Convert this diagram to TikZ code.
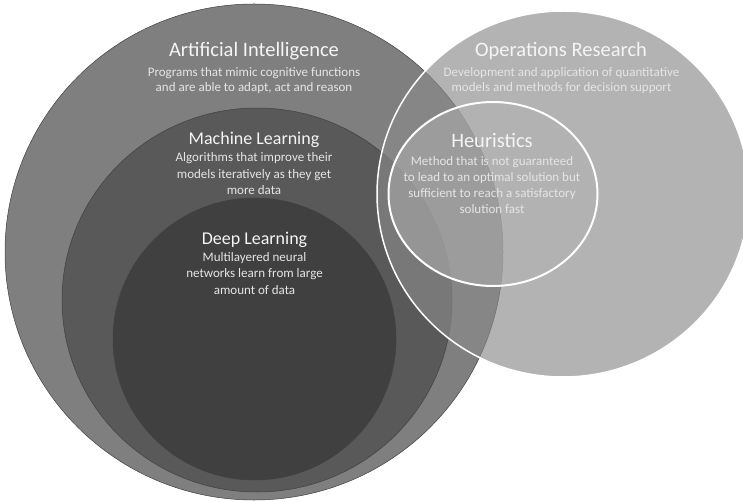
\documentclass[tikz,border=0pt]{standalone}
\usepackage{fontspec}
\setmainfont{Carlito}
\definecolor{aigray}{HTML}{7F7F7F}
\definecolor{mlgray}{HTML}{595959}
\definecolor{dlgray}{HTML}{404040}
\definecolor{orgray}{HTML}{8A8A8A}
\definecolor{hrgray}{HTML}{B3B3B3}
\tikzset{
  ring/.style={draw=black!75, line width=0.5pt},
  headline/.style={text=white!96!black, anchor=base, inner sep=0pt,
    font=\fontsize{20.5}{24}\selectfont},
  blurb/.style={text=white!90!black, anchor=north, inner sep=0pt, align=center,
    font=\fontsize{13}{15}\selectfont}
}
\begin{document}
\begin{tikzpicture}[x=1pt,y=-1pt]
  \useasboundingbox (0,0) rectangle (743,502);
  % nested sets
  \filldraw[ring, fill=aigray] (254,252) ellipse [x radius=249, y radius=248];
  \filldraw[ring, fill=mlgray] (257,300) ellipse [x radius=195, y radius=192];
  \filldraw[ring, fill=dlgray] (254.5,339) ellipse [x radius=141.5, y radius=141];
  % operations research and heuristics
  \filldraw[draw=white, line width=1.5pt, fill=orgray, fill opacity=0.65]
    (563,194) ellipse [x radius=186, y radius=183];
  \filldraw[draw=white, line width=2pt, fill=hrgray, fill opacity=0.5]
    (493,194) ellipse [x radius=104.5, y radius=92];
  % labels
  \node[headline] (aititle) at (254,57) {Artificial Intelligence};
  \node[blurb] (aitext) at (254,67.5)
    {Programs that mimic cognitive functions\\and are able to adapt, act and reason};
  \node[headline] (ortitle) at (561,57) {Operations Research};
  \node[blurb] (ortext) at (561.5,67.5)
    {Development and application of quantitative\\models and methods for decision support};
  \node[headline, font=\fontsize{18}{22}\selectfont] (mltitle) at (254,145) {Machine Learning};
  \node[blurb, font=\fontsize{13}{16.5}\selectfont] (mltext) at (254,152.5)
    {Algorithms that improve their\\models iteratively as they get\\more data};
  \node[headline, font=\fontsize{18}{22}\selectfont] (dltitle) at (254.5,245) {Deep Learning};
  \node[blurb, font=\fontsize{13}{16.5}\selectfont] (dltext) at (254.5,252)
    {Multilayered neural\\networks learn from large\\amount of data};
  \node[headline] (hrtitle) at (492,147.3) {Heuristics};
  \node[blurb, font=\fontsize{13}{16}\selectfont] (hrtext) at (492,156.5)
    {Method that is not guaranteed\\to lead to an optimal solution but\\sufficient to reach a satisfactory\\solution fast};
\end{tikzpicture}
\end{document}
